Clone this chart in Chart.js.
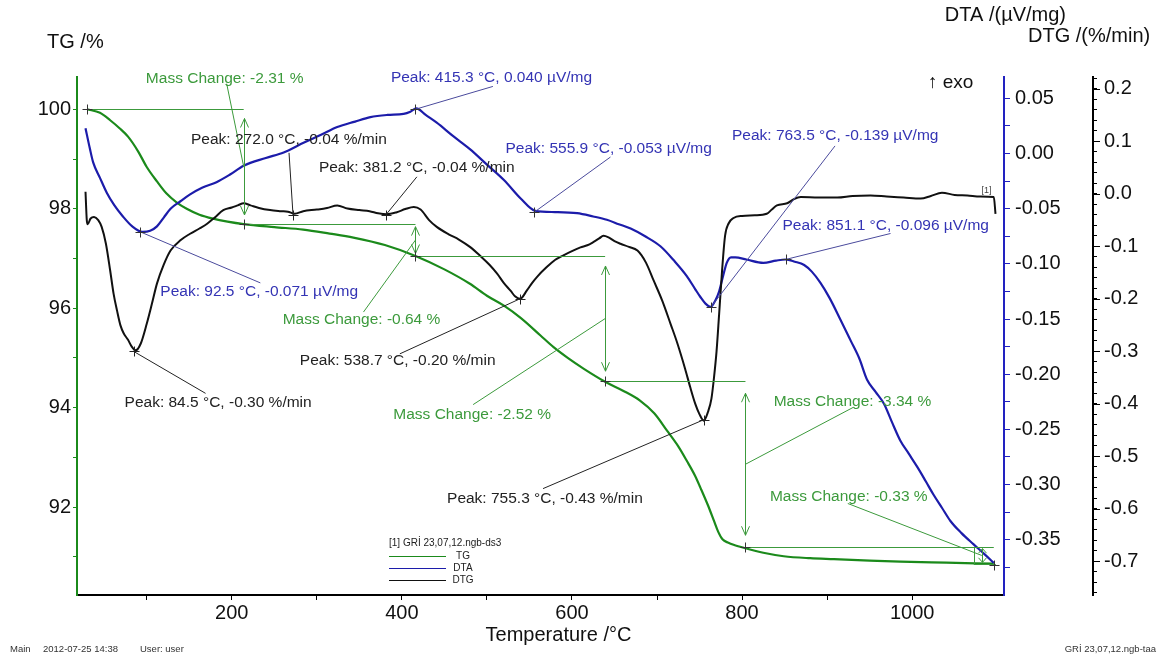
<!DOCTYPE html>
<html>
<head>
<meta charset="utf-8">
<script src="https://cdn.jsdelivr.net/npm/chart.js@4.4.0/dist/chart.umd.min.js"></script>
<style>
  html, body { margin: 0; padding: 0; background: #fff; }
  canvas { display: block; }
</style>
</head>
<body>
<canvas id="taChart" width="1168" height="657"></canvas>
<script>
// TG curve: temperature /°C, mass /%
const tgTemp = [30, 45, 57, 68, 78, 90, 100, 112, 123, 135, 147, 162, 178, 195, 214, 250, 284, 315, 343, 380,
  416, 450, 480, 500, 520, 540, 563, 578, 595, 614, 639, 660, 680, 697, 712, 725, 735, 745, 751, 760,
  767, 772, 777, 784, 790, 804, 825, 849, 880, 908, 950, 986, 1040, 1096];
const tgMass = [100.0, 99.93, 99.78, 99.62, 99.45, 99.15, 98.84, 98.55, 98.31, 98.13, 98.0, 97.88, 97.80, 97.74, 97.69, 97.63, 97.58, 97.50, 97.42, 97.27,
  97.05, 96.78, 96.49, 96.25, 96.05, 95.80, 95.45, 95.22, 95.0, 94.78, 94.52, 94.34, 94.14, 93.88, 93.53, 93.22, 92.93, 92.62, 92.39, 92.03,
  91.72, 91.50, 91.35, 91.28, 91.24, 91.17, 91.08, 91.01, 90.97, 90.95, 90.92, 90.90, 90.88, 90.86];

// DTA curve: µV/mg
const dtaTemp = [28, 33, 37, 45, 53, 62, 72, 83, 95, 104, 112, 120, 128, 140, 151, 165, 182, 198, 214, 240,
  261, 285, 305, 324, 345, 363, 383, 402, 410, 417, 428, 441, 460, 480, 500, 520, 540, 557, 580, 606,
  625, 641, 655, 669, 686, 704, 720, 735, 745, 751, 757, 763, 768, 773, 778, 782, 787, 792, 805, 825,
  840, 851, 862, 873, 882, 892, 903, 916, 928, 938, 947, 957, 967, 976, 986, 996, 1006, 1016, 1025, 1035,
  1045, 1058, 1072, 1085, 1096];
const dtaSignal = [0.023, 0.005, -0.008, -0.022, -0.0355, -0.047, -0.057, -0.066, -0.071, -0.070, -0.066, -0.058, -0.050, -0.043, -0.037, -0.031, -0.026, -0.019, -0.011, -0.004,
  0.001, 0.010, 0.017, 0.024, 0.029, 0.033, 0.035, 0.036, 0.038, 0.041, 0.035, 0.028, 0.016, 0.004, -0.010, -0.024, -0.041, -0.052, -0.053, -0.054,
  -0.057, -0.060, -0.064, -0.068, -0.075, -0.084, -0.097, -0.111, -0.123, -0.130, -0.136, -0.139, -0.134, -0.125, -0.110, -0.099, -0.094, -0.094, -0.096, -0.099,
  -0.097, -0.096, -0.098, -0.101, -0.107, -0.117, -0.131, -0.151, -0.170, -0.186, -0.205, -0.216, -0.227, -0.243, -0.260, -0.272, -0.284, -0.297, -0.309, -0.321,
  -0.333, -0.344, -0.354, -0.363, -0.371];

// DTG curve: %/min
const dtgTemp = [28, 29.5, 30.5, 34, 38, 43, 47, 52, 57, 61, 65, 69, 73, 78, 82, 87, 93, 100, 106, 112,
  120, 128, 140, 151, 162, 171, 180, 190, 200, 207, 214, 222, 232, 245, 258, 266, 274, 284, 300, 312,
  324, 336, 350, 362, 372, 382, 394, 404, 414, 422, 432, 441, 455, 467, 480, 492, 503, 512, 520, 528,
  533, 539, 547, 553, 559, 570, 580, 590, 600, 610, 618, 625, 632, 637, 643, 650, 657, 667, 677, 687,
  696, 706, 716, 724, 733, 739, 745, 750, 755, 760, 764, 767, 770, 773, 776.5, 780, 784, 790, 800, 815,
  829, 835, 841, 853, 861, 869, 890, 912, 930, 951, 970, 990, 1010, 1022, 1035, 1050, 1065, 1080, 1096, 1098];
const dtgRate = [0.004, -0.050, -0.058, -0.047, -0.044, -0.050, -0.063, -0.095, -0.146, -0.190, -0.222, -0.250, -0.266, -0.278, -0.290, -0.298, -0.285, -0.2475, -0.210, -0.171,
  -0.135, -0.108, -0.088, -0.076, -0.066, -0.057, -0.045, -0.031, -0.026, -0.022, -0.018, -0.022, -0.027, -0.031, -0.033, -0.034, -0.038, -0.033, -0.030, -0.027,
  -0.022, -0.028, -0.031, -0.033, -0.037, -0.039, -0.035, -0.029, -0.025, -0.030, -0.050, -0.063, -0.077, -0.087, -0.101, -0.118, -0.135, -0.152, -0.170, -0.185,
  -0.195, -0.200, -0.184, -0.170, -0.158, -0.140, -0.126, -0.117, -0.109, -0.102, -0.098, -0.092, -0.085, -0.080, -0.083, -0.090, -0.095, -0.101, -0.108, -0.131,
  -0.165, -0.203, -0.248, -0.285, -0.333, -0.368, -0.400, -0.420, -0.432, -0.415, -0.390, -0.350, -0.300, -0.230, -0.146, -0.080, -0.057, -0.046, -0.042, -0.041,
  -0.038, -0.030, -0.022, -0.018, -0.010, -0.006, -0.007, -0.007, -0.004, -0.003, -0.005, -0.007, -0.009, -0.004, 0.002, -0.002, -0.003, -0.005, -0.006, -0.038];

// peaks picked by the evaluation software
const dtaPeakTemp = [92.5, 415.3, 555.9, 763.5, 851.1];
const dtaPeakValue = [-0.071, 0.040, -0.053, -0.139, -0.096];
const dtgPeakTemp = [84.5, 272.0, 381.2, 538.7, 755.3];
const dtgPeakValue = [-0.30, -0.04, -0.04, -0.20, -0.43];

// mass change steps
const stepTemp = [30, 214, 416, 639, 804, 1096];
const stepMass = [100.0, 97.69, 97.05, 94.53, 91.19, 90.86];
const massChange = [-2.31, -0.64, -2.52, -3.34, -0.33];

// axis ranges and ticks
const tempRange = [18, 1108];
const tgRange = [90.23, 100.65];
const dtaRange = [-0.4001, 0.0694];
const dtgRange = [-0.764, 0.2225];
const tempTicks = [100, 200, 300, 400, 500, 600, 700, 800, 900, 1000];
const tempLabels = [200, 400, 600, 800, 1000];
const tgTicks = [91, 92, 93, 94, 95, 96, 97, 98, 99, 100];
const tgLabels = [92, 94, 96, 98, 100];
const dtaLabels = [0.05, 0.00, -0.05, -0.10, -0.15, -0.20, -0.25, -0.30, -0.35, -0.40];
const dtgLabels = [0.2, 0.1, 0.0, -0.1, -0.2, -0.3, -0.4, -0.5, -0.6, -0.7];

// where the labels sit, in px from the point they belong to
const dtaLabelPos = [[20, 60], [-24, -32], [-29, -63], [21, -171], [-3, -34]];
const dtaLeaderEnd = [[120, 51], [78, -23], [76, -55], [124, -161], [105, -26]];
const dtgLabelPos = [[-9, 51], [-102, -75], [-67, -47], [-220, 62], [-257, 79]];
const dtgLeaderEnd = [[72, 42], [-4, -62], [31, -38], [-120, 55], [-161, 69]];
const massLabelPos = [[-19, -88], [-54, 80], [-133, 96], [107, -63], [-133, -59]];
const massLeaderStart = [[-17, -83], [-52, 72], [-132, 86], [108, -57], [-134, -52]];
const massArrowShift = [0, 0, 0, 0, -12];

const FONT = '"Liberation Sans", Arial, sans-serif';
const tgColor = '#1b8a1b';
const dtaColor = '#1c1caa';
const dtgColor = '#111111';
const greenText = '#3c9a3c';
const blueText = '#3434b4';

const toPoints = (xs, ys) => xs.map((v, i) => ({ x: v, y: ys[i] }));
const near = (list, v) => list.some((l) => Math.abs(l - v) < 1e-6);

// minor ticks between the labelled ones
function stepTicks(first, last, step) {
  const out = [];
  const n = Math.round((last - first) / step);
  for (let i = 0; i <= n; i++) out.push({ value: Math.round((first + i * step) * 1000) / 1000 });
  return out;
}

function cross(c, px, py, color) {
  px = Math.round(px) + 0.5;
  py = Math.round(py) + 0.5;
  c.strokeStyle = color;
  c.lineWidth = 1;
  c.beginPath();
  c.moveTo(px - 5, py); c.lineTo(px + 5, py);
  c.moveTo(px, py - 5); c.lineTo(px, py + 5);
  c.stroke();
}

function segment(c, x1, y1, x2, y2, color, w) {
  c.strokeStyle = color;
  c.lineWidth = w || 1;
  c.beginPath();
  c.moveTo(x1, y1);
  c.lineTo(x2, y2);
  c.stroke();
}

function doubleArrow(c, px, y1, y2, color) {
  px = Math.round(px) + 0.5;
  const len = y2 - y1;
  const inset = Math.min(12, len * 0.08);
  const a = y1 + inset, b = y2 - inset;
  const head = Math.min(9, (b - a) / 3);
  c.strokeStyle = color;
  c.lineWidth = 1;
  c.beginPath();
  c.moveTo(px, a); c.lineTo(px, b);
  c.moveTo(px - 4, a + head); c.lineTo(px, a); c.lineTo(px + 4, a + head);
  c.moveTo(px - 4, b - head); c.lineTo(px, b); c.lineTo(px + 4, b - head);
  c.stroke();
}

function text(c, str, x, y, color, size, align) {
  c.fillStyle = color;
  c.font = size + 'px ' + FONT;
  c.textAlign = align || 'left';
  c.textBaseline = 'middle';
  c.fillText(str, x, y);
}

const annotationPlugin = {
  id: 'taAnnotations',
  afterDatasetsDraw(chart) {
    const c = chart.ctx;
    const { x, yTG, yDTA, yDTG } = chart.scales;
    c.save();

    // mass change steps
    for (let i = 0; i < massChange.length; i++) {
      const x0 = x.getPixelForValue(stepTemp[i]);
      const x1 = x.getPixelForValue(stepTemp[i + 1]);
      const ya = yTG.getPixelForValue(stepMass[i]);
      const yb = yTG.getPixelForValue(stepMass[i + 1]);
      const yr = Math.round(ya) + 0.5;
      segment(c, x0, yr, x1, yr, greenText, 1);
      cross(c, x0, ya, '#333');
      const ax = x1 + massArrowShift[i];
      doubleArrow(c, ax, ya, yb, greenText);
      const my = (ya + yb) / 2;
      segment(c, ax + massLeaderStart[i][0], my + massLeaderStart[i][1], ax, my, greenText, 1);
      text(c, 'Mass Change: ' + massChange[i].toFixed(2) + ' %', ax + massLabelPos[i][0], my + massLabelPos[i][1], greenText, 15.5, 'center');
    }
    // closing level of the last step
    const lastX = x.getPixelForValue(stepTemp[stepTemp.length - 1]);
    const lastY = Math.round(yTG.getPixelForValue(stepMass[stepMass.length - 1])) + 0.5;
    const prevY = Math.round(yTG.getPixelForValue(stepMass[stepMass.length - 2])) + 0.5;
    segment(c, lastX - 20, lastY, lastX + 2, lastY, greenText, 1);
    segment(c, Math.round(lastX - 20) + 0.5, prevY, Math.round(lastX - 20) + 0.5, lastY, greenText, 1);
    cross(c, lastX, lastY, '#333');

    // DTA peaks
    dtaPeakTemp.forEach((t, i) => {
      const px = x.getPixelForValue(t);
      const py = yDTA.getPixelForValue(dtaPeakValue[i]);
      segment(c, px, py, px + dtaLeaderEnd[i][0], py + dtaLeaderEnd[i][1], '#4a4a9c', 1);
      cross(c, px, py, '#333');
      text(c, 'Peak: ' + t.toFixed(1) + ' °C, ' + dtaPeakValue[i].toFixed(3) + ' µV/mg',
        px + dtaLabelPos[i][0], py + dtaLabelPos[i][1], blueText, 15.5);
    });

    // DTG peaks
    dtgPeakTemp.forEach((t, i) => {
      const px = x.getPixelForValue(t);
      const py = yDTG.getPixelForValue(dtgPeakValue[i]);
      segment(c, px, py, px + dtgLeaderEnd[i][0], py + dtgLeaderEnd[i][1], '#222', 1);
      cross(c, px, py, '#222');
      text(c, 'Peak: ' + t.toFixed(1) + ' °C, ' + dtgPeakValue[i].toFixed(2) + ' %/min',
        px + dtgLabelPos[i][0], py + dtgLabelPos[i][1], '#222', 15.5);
    });

    // curve tag at the end of DTG
    const tagX = x.getPixelForValue(dtgTemp[dtgTemp.length - 1]);
    const tagY = yDTG.getPixelForValue(dtgRate[dtgRate.length - 2]);
    text(c, '[1]', tagX - 14, tagY - 6, '#444', 9);

    c.restore();
  },
  afterDraw(chart) {
    const c = chart.ctx;
    const area = chart.chartArea;
    const yDTG = chart.scales.yDTG;
    c.save();
    // longer marks at the labelled DTG ticks
    dtgLabels.forEach((v) => {
      const py = Math.round(yDTG.getPixelForValue(v)) + 0.5;
      segment(c, yDTG.left, py, yDTG.left + 7, py, '#000', 1);
    });

    // axis titles
    text(c, 'TG /%', 47, 42, '#111', 20);
    text(c, 'DTA /(µV/mg)', 1066, 15, '#111', 20, 'right');
    text(c, 'DTG /(%/min)', 1028, 36, '#111', 20);
    text(c, 'Temperature /°C', (area.left + area.right) / 2 + 18, 635, '#111', 20, 'center');
    text(c, '↑ exo', 928, 83, '#111', 19);

    // legend
    text(c, '[1] GRİ 23,07,12.ngb-ds3', 389, 543, '#222', 10);
    const rows = [['TG', tgColor, 556], ['DTA', dtaColor, 568], ['DTG', dtgColor, 580]];
    rows.forEach(r => {
      segment(c, 389, r[2] + 0.5, 446, r[2] + 0.5, r[1], 1);
      text(c, r[0], 463, r[2], '#222', 10, 'center');
    });

    // footer
    text(c, 'Main', 10, 649, '#333', 9.5);
    text(c, '2012-07-25 14:38', 43, 649, '#333', 9.5);
    text(c, 'User: user', 140, 649, '#333', 9.5);
    text(c, 'GRİ 23,07,12.ngb-taa', 1156, 649, '#333', 9.5, 'right');
    c.restore();
  },
};

const tickFont = { family: FONT, size: 20 };

new Chart(document.getElementById('taChart').getContext('2d'), {
  type: 'line',
  data: {
    datasets: [
      { label: 'DTG', data: toPoints(dtgTemp, dtgRate), yAxisID: 'yDTG', borderColor: dtgColor, borderWidth: 2 },
      { label: 'DTA', data: toPoints(dtaTemp, dtaSignal), yAxisID: 'yDTA', borderColor: dtaColor, borderWidth: 2.2 },
      { label: 'TG', data: toPoints(tgTemp, tgMass), yAxisID: 'yTG', borderColor: tgColor, borderWidth: 2.2 },
    ],
  },
  options: {
    responsive: false,
    animation: false,
    elements: {
      point: { radius: 0 },
      line: { cubicInterpolationMode: 'monotone', fill: false },
    },
    layout: { padding: { top: 77, left: 0, right: 0, bottom: 0 } },
    scales: {
      x: {
        type: 'linear',
        min: tempRange[0],
        max: tempRange[1],
        afterFit: (s) => { s.height = 62; },
        afterBuildTicks: (s) => { s.ticks = tempTicks.map((v) => ({ value: v })); },
        border: { color: '#000', width: 2 },
        grid: { drawOnChartArea: false, tickLength: 5, tickColor: '#000' },
        ticks: {
          autoSkip: false, maxRotation: 0, padding: 1,
          color: '#111', font: tickFont,
          callback: (v) => (near(tempLabels, v) ? String(v) : ''),
        },
      },
      yTG: {
        position: 'left',
        min: tgRange[0],
        max: tgRange[1],
        afterFit: (s) => { s.width = 77; },
        afterBuildTicks: (s) => { s.ticks = tgTicks.map((v) => ({ value: v })); },
        border: { color: tgColor, width: 2 },
        grid: { drawOnChartArea: false, tickLength: 4, tickColor: tgColor },
        ticks: {
          autoSkip: false, padding: 2,
          color: '#111', font: tickFont,
          callback: (v) => (near(tgLabels, v) ? String(v) : ''),
        },
      },
      yDTA: {
        position: 'right',
        weight: 1,
        min: dtaRange[0],
        max: dtaRange[1],
        afterFit: (s) => { s.width = 89; },
        afterBuildTicks: (s) => { s.ticks = stepTicks(-0.375, 0.05, 0.025); },
        border: { color: '#2222c0', width: 2 },
        grid: { drawOnChartArea: false, tickLength: 6, tickColor: '#2222c0' },
        ticks: {
          autoSkip: false, padding: 5,
          color: '#111', font: tickFont,
          callback: (v) => (near(dtaLabels, v) ? v.toFixed(2) : ''),
        },
      },
      yDTG: {
        position: 'right',
        weight: 2,
        min: dtgRange[0],
        max: dtgRange[1],
        afterFit: (s) => { s.width = 75; },
        afterBuildTicks: (s) => { s.ticks = stepTicks(-0.76, 0.22, 0.02); },
        border: { color: '#000', width: 2 },
        grid: { drawOnChartArea: false, tickLength: 4, tickColor: '#000' },
        ticks: {
          autoSkip: false, padding: 7,
          color: '#111', font: tickFont,
          callback: (v) => (near(dtgLabels, v) ? v.toFixed(1) : ''),
        },
      },
    },
    plugins: {
      legend: { display: false },
      tooltip: { enabled: false },
    },
  },
  plugins: [annotationPlugin],
});
</script>
</body>
</html>
